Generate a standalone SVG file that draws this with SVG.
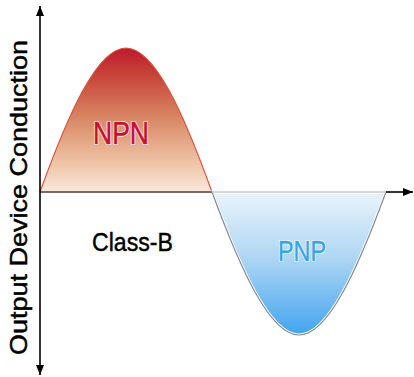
<svg xmlns="http://www.w3.org/2000/svg" width="414" height="377" viewBox="0 0 414 377">
<style>
.lbl{font-family:"Liberation Sans",Arial,sans-serif;}
.npn{fill:#c8102e;stroke:#c8102e;stroke-width:0.6;}
.pnp{fill:#3aa3e6;stroke:#3aa3e6;stroke-width:0.5;}
.halo{fill:#fff;stroke:#fff;stroke-width:2.2;stroke-linejoin:round;}
.blk{fill:#000;stroke:#000;stroke-width:0.45;}
.axis{stroke:#000;stroke-width:1.6;fill:none;}
</style>
<defs>
<linearGradient id="gRed" x1="0" y1="48" x2="0" y2="192" gradientUnits="userSpaceOnUse">
<stop offset="0" stop-color="#bf1b2c"/>
<stop offset="0.2" stop-color="#c8463a"/>
<stop offset="0.5" stop-color="#d98a66"/>
<stop offset="0.8" stop-color="#efc4a8"/>
<stop offset="1" stop-color="#f9e8dc"/>
</linearGradient>
<linearGradient id="gBlue" x1="0" y1="192" x2="0" y2="335" gradientUnits="userSpaceOnUse">
<stop offset="0" stop-color="#e9f4fb"/>
<stop offset="0.45" stop-color="#b0d7f3"/>
<stop offset="1" stop-color="#42a4ef"/>
</linearGradient>
<marker id="arr" viewBox="0 0 10 8" refX="10" refY="4" markerWidth="10" markerHeight="8" markerUnits="userSpaceOnUse" orient="auto">
<path d="M0,0 L10,4 L0,8 Z" fill="#000"/>
</marker>
</defs>
<rect width="414" height="377" fill="#fff"/>
<g id="npn-lobe">
<path d="M40,192 C68.67,112.8 97.33,48 126,48 C154.67,48 183.33,112.8 212,192 Z" fill="url(#gRed)" stroke="#d9553c" stroke-width="1.2"/>
</g>
<g id="pnp-lobe">
<path d="M212,192 C241,270.65 270,335 299,335 C328,335 357,270.65 386,192 Z" fill="url(#gBlue)" stroke="#fff" stroke-width="3"/>
<path d="M212,192 C241,270.65 270,335 299,335 C328,335 357,270.65 386,192" fill="none" stroke="#858b92" stroke-width="1.2"/>
</g>
<g id="connectors">
<line x1="40" y1="192" x2="212" y2="192" stroke="#555" stroke-width="1.6"/>
<line x1="212" y1="192" x2="386" y2="192" stroke="#c8c8c8" stroke-width="1.6"/>
<line class="axis" x1="386" y1="192" x2="413" y2="192" marker-end="url(#arr)"/>
<line class="axis" x1="40" y1="192" x2="40" y2="6" marker-end="url(#arr)"/>
<line class="axis" x1="40" y1="192" x2="40" y2="375" marker-end="url(#arr)"/>
</g>
<g id="label-npn">
<text class="lbl halo" x="93" y="144" font-size="31" textLength="56" lengthAdjust="spacingAndGlyphs">NPN</text>
<text class="lbl npn" x="93" y="144" font-size="31" textLength="56" lengthAdjust="spacingAndGlyphs">NPN</text>
</g>
<g id="label-pnp">
<text class="lbl halo" x="278" y="261" font-size="30" textLength="48" lengthAdjust="spacingAndGlyphs">PNP</text>
<text class="lbl pnp" x="278" y="261" font-size="30" textLength="48" lengthAdjust="spacingAndGlyphs">PNP</text>
</g>
<g id="label-classb"><text class="lbl blk" x="92" y="251" font-size="26" textLength="81" lengthAdjust="spacingAndGlyphs">Class-B</text></g>
<g id="label-yaxis"><text class="lbl blk" transform="translate(27,355) rotate(-90)" x="0" y="0" font-size="24" textLength="315" lengthAdjust="spacingAndGlyphs">Output Device Conduction</text></g>
</svg>
